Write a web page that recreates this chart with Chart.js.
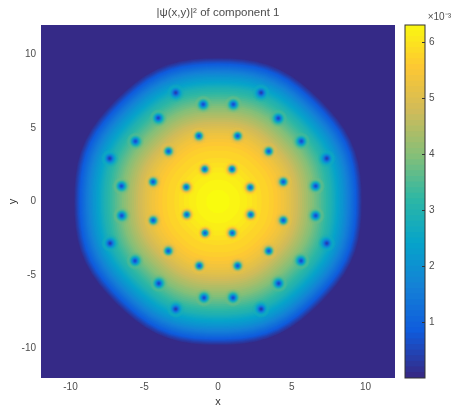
<!DOCTYPE html>
<html>
<head>
<meta charset="utf-8">
<title>density</title>
<script src="https://cdn.jsdelivr.net/npm/chart.js@4/dist/chart.umd.min.js"></script>
<style>
  html, body { margin: 0; padding: 0; background: #fff; }
  canvas { position: absolute; top: 0; filter: blur(0.35px); }
  #map { left: 0; }
  #bar { left: 395px; }
</style>
</head>
<body>
<canvas id="map" width="451" height="409"></canvas>
<canvas id="bar" width="56" height="409"></canvas>
<script>
// values
const xTicks = [-10, -5, 0, 5, 10];
const yTicks = [-10, -5, 0, 5, 10];
const barTicks = [1, 2, 3, 4, 5, 6];

// density level (x 1e-3) and the radius where the cloud reaches it
const levelValue = [
  0.1, 0.2, 0.3, 0.4, 0.5, 0.6, 0.7, 0.8, 0.9, 1.0, 1.1, 1.2, 1.3, 1.4, 1.5, 1.6,
  1.7, 1.8, 1.9, 2.0, 2.1, 2.2, 2.3, 2.4, 2.5, 2.6, 2.7, 2.8, 2.9, 3.0, 3.1, 3.2,
  3.3, 3.4, 3.5, 3.6, 3.7, 3.8, 3.9, 4.0, 4.1, 4.2, 4.3, 4.4, 4.5, 4.6, 4.7, 4.8,
  4.9, 5.0, 5.1, 5.2, 5.3, 5.4, 5.5, 5.6, 5.7, 5.8, 5.9, 6.0, 6.1, 6.2, 6.3
];
const levelRadius = [
  9.88, 9.83, 9.77, 9.71, 9.66, 9.61, 9.55, 9.50, 9.43, 9.36, 9.29, 9.22, 9.15, 9.08, 9.00, 8.92,
  8.84, 8.76, 8.68, 8.60, 8.50, 8.40, 8.30, 8.22, 8.13, 8.05, 7.97, 7.88, 7.80, 7.68, 7.56, 7.44,
  7.32, 7.20, 7.08, 6.96, 6.84, 6.72, 6.60, 6.46, 6.33, 6.20, 6.07, 5.93, 5.78, 5.64, 5.50, 5.35,
  5.20, 5.04, 4.88, 4.72, 4.56, 4.32, 4.10, 3.83, 3.50, 3.00, 2.68, 2.34, 2.00, 1.50, 0.80
];

// the cloud edge is not quite round: stretch per 10 degrees, 0 to 90
const edgeScale = [0.988, 0.997, 1.008, 1.005, 0.993, 0.993, 1.005, 1.008, 0.997, 0.988];

const vortexX = [
  -2.87, -1.00, -4.05, -1.30, -5.60, -3.36, -7.34, -0.90, -4.40, -6.55, -2.15,
  2.92, 1.04, 4.09, 1.33, 5.65, 3.44, 7.37, 0.95, 4.43, 6.62, 2.19,
  -6.53, -4.39, -2.12, -0.88, -7.32, -3.37, -5.63, -1.27, -4.02, -0.95, -2.87,
  2.22, 4.43, 6.62, 0.97, 7.37, 3.44, 5.63, 1.33, 4.11, 1.02, 2.92
];
const vortexY = [
  7.40, 6.61, 5.68, 4.46, 4.10, 3.42, 2.93, 2.20, 1.34, 1.05, 0.98,
  7.40, 6.61, 5.66, 4.46, 4.10, 3.42, 2.93, 2.20, 1.34, 1.05, 0.96,
  -0.96, -1.28, -0.89, -2.14, -2.84, -3.36, -4.03, -4.37, -5.57, -6.54, -7.31,
  -0.89, -1.28, -0.96, -2.14, -2.84, -3.36, -4.03, -4.37, -5.57, -6.54, -7.31
];
// density at the middle of each vortex
const vortexCore = [
  0.25, 0.5, 0.4, 0.7, 0.5, 0.7, 0.25, 0.9, 0.7, 0.5, 0.9,
  0.25, 0.5, 0.4, 0.7, 0.5, 0.7, 0.25, 0.9, 0.7, 0.5, 0.9,
  0.5, 0.7, 0.9, 0.9, 0.25, 0.7, 0.5, 0.7, 0.4, 0.5, 0.25,
  0.9, 0.7, 0.5, 0.9, 0.25, 0.7, 0.5, 0.7, 0.4, 0.5, 0.25
];

const parula = [[53,42,135],[15,92,221],[20,129,214],[6,164,202],[46,183,164],[135,191,119],[209,187,89],[254,200,50],[249,251,14]];
const maxValue = 6.3;
const textColor = "#4d4d4d";
const fontFamily = "'Liberation Sans', Arial, sans-serif";

const colorFor = (value, alpha = 1) => {
  const t = Math.max(0, Math.min(1, value / maxValue)) * (parula.length - 1);
  const i = Math.min(parula.length - 2, Math.floor(t));
  const f = t - i;
  const c = parula[i].map((p, k) => Math.round(p + (parula[i + 1][k] - p) * f));
  return `rgba(${c[0]},${c[1]},${c[2]},${alpha})`;
};

const densityAt = (r) => {
  let value = 0;
  levelRadius.forEach((lr, i) => { if (lr >= r) value = levelValue[i]; });
  return value;
};

// one small picture per vortex, dark core fading into the local density
const vortexPicture = (i) => {
  const size = 18;
  const c = document.createElement("canvas");
  c.width = size;
  c.height = size;
  const ctx = c.getContext("2d");
  const bg = densityAt(Math.hypot(vortexX[i], vortexY[i]));
  const g = ctx.createRadialGradient(size / 2, size / 2, 0, size / 2, size / 2, size / 2);
  for (let s = 0; s <= 12; s++) {
    const d = (s / 12) * (size / 2);
    const value = bg - (bg - vortexCore[i]) * Math.exp(-(d * d) / 14);
    g.addColorStop(s / 12, colorFor(value, s < 7 ? 1 : (12 - s) / 5));
  }
  ctx.fillStyle = g;
  ctx.fillRect(0, 0, size, size);
  return c;
};

const edgeAt = (deg) => {
  const a = deg % 180;
  const q = a > 90 ? 180 - a : a;
  return edgeScale[Math.round(q / 10)];
};

const ringPoints = (r) => {
  const pts = [];
  for (let deg = 0; deg < 360; deg += 10) {
    const a = (deg * Math.PI) / 180;
    pts.push({ x: r * edgeAt(deg) * Math.cos(a), y: r * edgeAt(deg) * Math.sin(a) });
  }
  return pts;
};

// fills each closed level from the points the chart has already placed on its scales
const contourFill = {
  id: "contourFill",
  beforeDatasetsDraw(chart) {
    const { ctx, chartArea: a } = chart;
    ctx.save();
    ctx.fillStyle = colorFor(0);
    ctx.fillRect(a.left, a.top, a.right - a.left, a.bottom - a.top);
    ctx.restore();
  },
  beforeDatasetDraw(chart, args) {
    const ds = chart.data.datasets[args.index];
    if (!ds.levelColor) return;
    const pts = args.meta.data;
    const n = pts.length;
    const { ctx } = chart;
    ctx.save();
    ctx.beginPath();
    ctx.moveTo((pts[n - 1].x + pts[0].x) / 2, (pts[n - 1].y + pts[0].y) / 2);
    pts.forEach((p, i) => {
      const q = pts[(i + 1) % n];
      ctx.quadraticCurveTo(p.x, p.y, (p.x + q.x) / 2, (p.y + q.y) / 2);
    });
    ctx.closePath();
    ctx.fillStyle = ds.levelColor;
    ctx.fill();
    ctx.restore();
  },
};

const pictures = vortexX.map((_, i) => vortexPicture(i));
const mapDatasets = [
  {
    label: "vortices",
    data: vortexX.map((x, i) => ({ x: x, y: vortexY[i] })),
    pointStyle: pictures,
    pointRadius: 9,
    showLine: false,
  },
];
// top level first, chart.js paints the first dataset last
for (let i = levelValue.length - 1; i >= 0; i--) {
  mapDatasets.push({
    label: "level " + levelValue[i],
    data: ringPoints(levelRadius[i]),
    levelColor: colorFor(levelValue[i]),
    pointRadius: 0,
    showLine: false,
  });
}

new Chart(document.getElementById("map"), {
  type: "scatter",
  data: { datasets: mapDatasets },
  plugins: [contourFill],
  options: {
    responsive: false,
    animation: false,
    layout: { padding: { left: 0, right: 56, top: 0, bottom: 0 } },
    plugins: {
      legend: { display: false },
      tooltip: { enabled: false },
      title: {
        display: true,
        text: "|ψ(x,y)|² of component 1",
        color: textColor,
        fullSize: false,
        font: { family: fontFamily, size: 11.5, weight: "normal" },
        padding: { top: 6, bottom: 5.2 },
      },
    },
    scales: {
      x: {
        type: "linear",
        min: -12,
        max: 12,
        grid: { display: false, drawTicks: false },
        border: { display: false },
        afterBuildTicks: (s) => { s.ticks = xTicks.map((v) => ({ value: v })); },
        afterFit: (s) => { s.height = 31; },
        ticks: { color: textColor, padding: 3, maxRotation: 0, font: { family: fontFamily, size: 10 } },
        title: { display: true, text: "x", color: "#333", padding: { top: 0, bottom: 0 }, font: { family: fontFamily, size: 11 } },
      },
      y: {
        type: "linear",
        min: -12,
        max: 12,
        grid: { display: false, drawTicks: false },
        border: { display: false },
        afterBuildTicks: (s) => { s.ticks = yTicks.map((v) => ({ value: v })); },
        afterFit: (s) => { s.width = 41; },
        ticks: { color: textColor, padding: 5, font: { family: fontFamily, size: 10 } },
        title: { display: true, text: "y", color: "#333", padding: { top: 6, bottom: 0 }, font: { family: fontFamily, size: 11 } },
      },
    },
  },
});

// colorbar frame and its short inward ticks
const barFrame = {
  id: "barFrame",
  afterDatasetsDraw(chart) {
    const { ctx, chartArea: a, scales } = chart;
    ctx.save();
    ctx.strokeStyle = "#333";
    ctx.lineWidth = 1;
    ctx.strokeRect(a.left, a.top, a.right - a.left, a.bottom - a.top);
    barTicks.forEach((v) => {
      const y = Math.round(scales.y.getPixelForValue(v)) + 0.5;
      ctx.beginPath();
      ctx.moveTo(a.right - 3, y);
      ctx.lineTo(a.right, y);
      ctx.stroke();
    });
    ctx.restore();
  },
};

// lowest band first so it is painted on top of the taller ones
const barDatasets = levelValue.map((v, i) => ({
  label: "band " + v,
  data: [v],
  backgroundColor: colorFor(i === 0 ? 0 : levelValue[i - 1]),
  barPercentage: 1,
  categoryPercentage: 1,
  borderWidth: 0,
}));

new Chart(document.getElementById("bar"), {
  type: "bar",
  data: { labels: ["colorbar"], datasets: barDatasets },
  plugins: [barFrame],
  options: {
    responsive: false,
    animation: false,
    layout: { padding: { left: 10, right: 0, top: 0, bottom: 31 } },
    plugins: {
      legend: { display: false },
      tooltip: { enabled: false },
      title: {
        display: true,
        text: "×10⁻³",
        color: textColor,
        align: "end",
        font: { family: fontFamily, size: 10, weight: "normal" },
        padding: { top: 11, bottom: 2 },
      },
    },
    scales: {
      x: { stacked: true, display: false },
      y: {
        type: "linear",
        position: "right",
        min: 0,
        max: maxValue,
        grid: { display: false, drawTicks: false },
        border: { display: false },
        afterBuildTicks: (s) => { s.ticks = barTicks.map((v) => ({ value: v })); },
        afterFit: (s) => { s.width = 26; },
        ticks: { color: textColor, padding: 4, font: { family: fontFamily, size: 10 } },
      },
    },
  },
});
</script>
</body>
</html>
